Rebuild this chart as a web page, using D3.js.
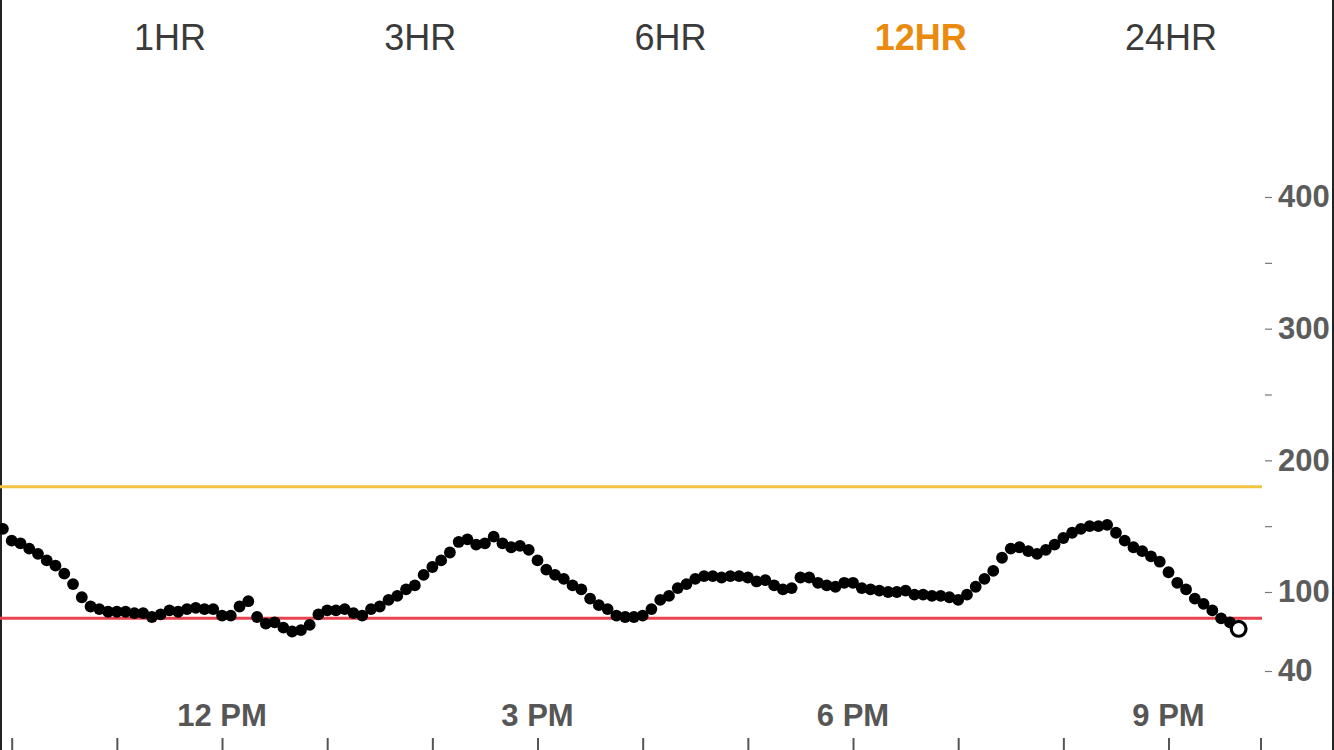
<!DOCTYPE html>
<html>
<head>
<meta charset="utf-8">
<script src="https://cdn.jsdelivr.net/npm/d3@7"></script>
<style>
  html, body { margin: 0; padding: 0; background: #fff; }
  svg { display: block; font-family: "Liberation Sans", Arial, sans-serif; }
</style>
</head>
<body>
<svg id="chart" width="1334" height="750"></svg>
<script>
// range buttons along the top
var ranges = ['1HR', '3HR', '6HR', '12HR', '24HR'];
var activeRange = '12HR';

// glucose readings (mg/dL), one every 5 minutes from 9:55 AM
var readingStart = new Date(2020, 0, 1, 9, 55);
var glucose = [
  148, 139, 137, 133, 129, 124, 120, 114, 106, 96,
  89, 87, 85, 85, 85, 84, 84, 81, 83, 86,
  85, 87, 88, 87, 87, 82, 82, 89, 93, 81,
  76, 77, 73, 70, 71, 75, 83, 86, 86, 87,
  84, 82, 87, 89, 94, 97, 102, 105, 113, 119,
  124, 130, 138, 140, 136, 137, 142, 137, 134, 135,
  132, 124, 117, 113, 110, 105, 102, 95, 90, 87,
  82, 81, 81, 82, 87, 94, 97, 103, 106, 110,
  112, 112, 111, 112, 112, 111, 108, 109, 105, 102,
  103, 111, 111, 107, 105, 104, 107, 107, 103, 102,
  101, 100, 100, 101, 98, 98, 97, 97, 96, 94,
  98, 104, 110, 116, 126, 133, 134, 131, 129, 132,
  136, 141, 145, 148, 150, 150, 151, 145, 139, 134,
  131, 127, 123, 115, 107, 102, 95, 91, 86, 80,
  77, 72
];

// axis labels and target lines
var yTicks = [40, 100, 150, 200, 250, 300, 350, 400];
var yLabels = [40, 100, 200, 300, 400];
var xLabelHours = [12, 15, 18, 21];
var highLimit = 180;
var lowLimit = 80;

var points = glucose.map(function(v, i) {
  return { t: new Date(readingStart.getTime() + i * 5 * 60000), v: v };
});

var svg = d3.select('#chart');
var plotRight = 1262;

var x = d3.scaleTime()
  .domain([new Date(2020, 0, 1, 9, 53, 20), new Date(2020, 0, 1, 21, 53, 20)])
  .range([0, plotRight]);

var y = d3.scaleLinear()
  .domain([40, 400])
  .range([671, 197]);

// frame edges
svg.append('line').attr('x1', 1).attr('x2', 1).attr('y1', 0).attr('y2', 750)
  .attr('stroke', '#222').attr('stroke-width', 2);
svg.append('line').attr('x1', 1333).attr('x2', 1333).attr('y1', 0).attr('y2', 750)
  .attr('stroke', '#222').attr('stroke-width', 2);

// range selector
var rangeX = d3.scalePoint().domain(ranges).range([170, 1171]);
svg.selectAll('.range')
  .data(ranges)
  .enter().append('text')
  .attr('class', 'range')
  .attr('x', function(d) { return rangeX(d); })
  .attr('y', 50)
  .attr('text-anchor', 'middle')
  .attr('font-size', 36)
  .attr('font-weight', function(d) { return d === activeRange ? 'bold' : 'normal'; })
  .attr('fill', function(d) { return d === activeRange ? '#ea8a0f' : '#3a3a3a'; })
  .text(function(d) { return d; });

// target range lines
svg.append('line')
  .attr('x1', 0).attr('x2', plotRight)
  .attr('y1', y(highLimit)).attr('y2', y(highLimit))
  .attr('stroke', '#f3c443').attr('stroke-width', 3);
svg.append('line')
  .attr('x1', 0).attr('x2', plotRight)
  .attr('y1', y(lowLimit)).attr('y2', y(lowLimit))
  .attr('stroke', '#e9434f').attr('stroke-width', 3);

// y axis on the right
var yAxis = svg.append('g')
  .attr('transform', 'translate(1265,0)')
  .call(d3.axisRight(y)
    .tickValues(yTicks)
    .tickSize(7)
    .tickPadding(6)
    .tickFormat(function(d) { return yLabels.indexOf(d) >= 0 ? d : ''; }));
yAxis.select('.domain').remove();
yAxis.selectAll('line').attr('stroke', '#777').attr('stroke-width', 1.2);
yAxis.selectAll('text')
  .attr('fill', '#5c5c5c')
  .attr('font-size', 31)
  .attr('font-weight', 'bold')
  .attr('font-family', '"Liberation Sans", Arial, sans-serif');

// x axis ticks along the bottom
var xAxis = svg.append('g')
  .attr('transform', 'translate(0,738)')
  .call(d3.axisBottom(x)
    .ticks(d3.timeHour.every(1))
    .tickSize(14)
    .tickFormat(''));
xAxis.select('.domain').remove();
xAxis.selectAll('line').attr('stroke', '#555').attr('stroke-width', 2);
svg.append('line')
  .attr('x1', plotRight - 1).attr('x2', plotRight - 1)
  .attr('y1', 738).attr('y2', 752)
  .attr('stroke', '#555').attr('stroke-width', 2);

svg.selectAll('.xlabel')
  .data(xLabelHours)
  .enter().append('text')
  .attr('class', 'xlabel')
  .attr('x', function(h) { return x(new Date(2020, 0, 1, h, 0)); })
  .attr('y', 726)
  .attr('text-anchor', 'middle')
  .attr('font-size', 31)
  .attr('font-weight', 'bold')
  .attr('fill', '#565656')
  .text(function(h) { return d3.timeFormat('%-I %p')(new Date(2020, 0, 1, h, 0)); });

// readings
var last = points[points.length - 1];
svg.append('g')
  .selectAll('circle')
  .data(points.slice(0, -1))
  .enter().append('circle')
  .attr('cx', function(d) { return x(d.t); })
  .attr('cy', function(d) { return y(d.v); })
  .attr('r', 5.9)
  .attr('fill', '#000');

// latest reading drawn open
svg.append('circle')
  .attr('cx', x(last.t))
  .attr('cy', y(last.v))
  .attr('r', 7.4)
  .attr('fill', '#fff')
  .attr('stroke', '#000')
  .attr('stroke-width', 3.2);
</script>
</body>
</html>
